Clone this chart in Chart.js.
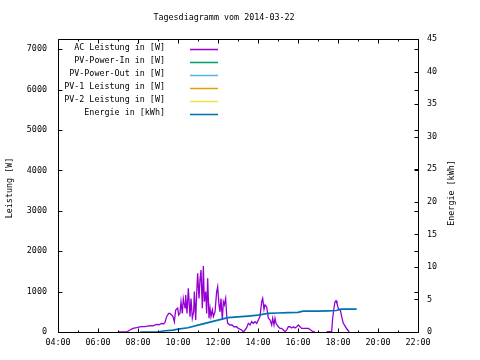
<!DOCTYPE html>
<html>
<head>
<meta charset="utf-8">
<script src="https://cdn.jsdelivr.net/npm/chart.js@4.4.1/dist/chart.umd.min.js"></script>
<style>
html,body{margin:0;padding:0;background:#fff;}
#wrap{width:480px;height:360px;position:relative;}
</style>
</head>
<body>
<div id="wrap"><canvas id="c" width="480" height="360"></canvas></div>
<script>
// ---- data ----
const chartTitle = "Tagesdiagramm vom 2014-03-22";
const seriesLabels = ["AC Leistung in [W]", "PV-Power-In in [W]", "PV-Power-Out in [W]",
                      "PV-1 Leistung in [W]", "PV-2 Leistung in [W]", "Energie in [kWh]"];
const seriesColors = ["#9400d3", "#009e73", "#56b4e9", "#e69f00", "#f0e442", "#0072b2"];
const xTickHours = [4, 6, 8, 10, 12, 14, 16, 18, 20, 22];
const yTickWatts = [0, 1000, 2000, 3000, 4000, 5000, 6000, 7000];
const y2TickKWh = [0, 5, 10, 15, 20, 25, 30, 35, 40, 45];

const acTimes = ["07:01","07:26","07:36","07:45","07:56","08:06","08:11","08:21","08:36","08:45","08:56",
 "09:03","09:11","09:17","09:21","09:26","09:32","09:36","09:41","09:45","09:49","09:53","09:59",
 "10:02","10:06","10:09","10:13","10:16","10:21","10:23","10:27","10:31","10:36","10:39","10:43","10:47","10:49","10:53","10:56","10:59",
 "11:03","11:06","11:09","11:13","11:16","11:19","11:23","11:26","11:29","11:33","11:36","11:39","11:43","11:46","11:51","11:56","11:59",
 "12:03","12:06","12:09","12:13","12:16","12:19","12:23","12:26","12:29","12:36","12:42","12:48","12:56",
 "13:01","13:11","13:16","13:21","13:26","13:31","13:36","13:41","13:46","13:51","13:56",
 "14:01","14:06","14:11","14:14","14:18","14:21","14:26","14:29","14:31","14:36","14:41","14:44","14:48","14:51","14:54",
 "15:01","15:06","15:11","15:16","15:21","15:26","15:31","15:36","15:41","15:46","15:51","15:56",
 "16:01","16:06","16:11","16:16","16:26","16:31","16:36","16:41","16:46","16:51",
 "17:00",
 "17:26","17:41","17:44","17:47","17:51","17:54","17:57",
 "18:01","18:04","18:07","18:11","18:16","18:21","18:26","18:34"];
const acWatts = [0,0,50,90,106,125,131,135,156,150,190,
 180,214,200,240,380,460,460,420,380,255,545,590,
 420,470,750,460,830,600,915,460,1080,380,830,340,500,1000,297,960,1450,
 830,1290,1535,590,1630,750,1000,460,1330,340,590,380,545,380,500,1000,1120,
 670,500,830,297,750,670,830,420,215,173,173,130,130,
 90,50,0,50,107,215,173,255,215,255,215,
 297,380,750,830,560,670,620,460,340,300,173,340,173,340,215,
 130,90,90,50,10,50,130,131,100,131,100,131,
 173,131,90,90,90,90,60,30,8,0,
 null,
 10,10,340,545,750,775,700,
 585,560,545,380,215,150,80,0];

const energyTimes = ["08:06","09:00","09:15","09:45","10:00","10:30","11:00","11:30","12:00","12:30",
 "13:00","13:30","14:00","14:30","15:00","15:30","16:00","16:15","16:30","17:00","17:30","17:55","18:10","18:30","18:56"];
const energyKWh = [0,0,0.15,0.3,0.45,0.65,1.05,1.45,1.82,2.2,
 2.32,2.45,2.6,2.85,2.92,2.98,3.02,3.2,3.2,3.22,3.25,3.3,3.5,3.5,3.52];

// ---- helpers ----
const toHours = s => { const [h, m] = s.split(":").map(Number); return h + m / 60; };
const pad2 = n => String(n).padStart(2, "0");
const fmtHour = v => pad2(Math.floor(v)) + ":" + pad2(Math.round((v % 1) * 60));
const points = (ts, vs) => ts.map((t, i) => ({x: toHours(t), y: vs[i]}));

const FONT = '"DejaVu Sans Mono", "Liberation Mono", monospace';
const FSIZE = 8.4;
Chart.defaults.font.family = FONT;
Chart.defaults.font.size = FSIZE;
Chart.defaults.color = "#000";

const datasets = seriesLabels.map((lab, i) => ({
  label: lab,
  data: [],
  borderColor: seriesColors[i],
  backgroundColor: seriesColors[i],
  borderWidth: 1.3,
  pointRadius: 0,
  tension: 0,
  spanGaps: false,
  yAxisID: "y",
  order: 1
}));
datasets[0].data = points(acTimes, acWatts);
datasets[5].data = points(energyTimes, energyKWh);
datasets[5].yAxisID = "y2";
datasets[5].borderWidth = 1.7;
datasets[5].order = 0;

const framePlugin = {
  id: "frame",
  afterDatasetsDraw(chart) {
    const {ctx, chartArea: a, scales} = chart;
    const L = Math.floor(a.left) + 0.5, R = Math.floor(a.right) + 0.5;
    const T = Math.floor(a.top) + 0.5, B = Math.floor(a.bottom) + 0.5;
    ctx.save();
    ctx.strokeStyle = "#000";
    ctx.lineWidth = 1;
    ctx.beginPath();
    ctx.rect(L, T, R - L, B - T);
    for (let h = scales.x.min; h <= scales.x.max; h += 1) {
      const px = Math.round(scales.x.getPixelForValue(h)) + 0.5;
      const len = (h % 2 === 0) ? 4 : 2;
      ctx.moveTo(px, B); ctx.lineTo(px, B - len);
      ctx.moveTo(px, T); ctx.lineTo(px, T + len);
    }
    yTickWatts.forEach(v => {
      const py = Math.round(scales.y.getPixelForValue(v)) + 0.5;
      ctx.moveTo(L, py); ctx.lineTo(L + 4, py);
      ctx.moveTo(R, py); ctx.lineTo(R - 4, py);
    });
    y2TickKWh.forEach(v => {
      const py = Math.round(scales.y2.getPixelForValue(v)) + 0.5;
      ctx.moveTo(R, py); ctx.lineTo(R - 4, py);
    });
    ctx.stroke();
    ctx.restore();
  },
  afterDraw(chart) {
    const {ctx} = chart;
    ctx.save();
    ctx.fillStyle = "#000";
    ctx.font = FSIZE + "px " + FONT;
    ctx.textAlign = "center";
    ctx.textBaseline = "middle";
    ctx.fillText(chartTitle, 224, 18);
    ctx.save();
    ctx.translate(10, 188);
    ctx.rotate(-Math.PI / 2);
    ctx.fillText("Leistung [W]", 0, 0);
    ctx.restore();
    ctx.save();
    ctx.translate(452, 193);
    ctx.rotate(-Math.PI / 2);
    ctx.fillText("Energie [kWh]", 0, 0);
    ctx.restore();
    chart.data.datasets.forEach((ds, i) => {
      const y = 49 + i * 13;
      ctx.textAlign = "right";
      ctx.fillStyle = "#000";
      ctx.fillText(ds.label, 165, y - 1);
      ctx.strokeStyle = ds.borderColor;
      ctx.lineWidth = 1.5;
      ctx.beginPath();
      ctx.moveTo(190, y + 0.5);
      ctx.lineTo(218, y + 0.5);
      ctx.stroke();
    });
    ctx.restore();
  }
};

new Chart(document.getElementById("c"), {
  type: "line",
  data: {datasets},
  options: {
    responsive: false,
    animation: false,
    layout: {padding: {top: 39, bottom: 0, left: 0, right: 0}},
    plugins: {legend: {display: false}, title: {display: false}, tooltip: {enabled: false}},
    scales: {
      x: {
        type: "linear", position: "bottom", min: 4, max: 22,
        afterBuildTicks: s => { s.ticks = xTickHours.map(v => ({value: v})); },
        afterFit: s => { s.height = 28; },
        ticks: {callback: v => fmtHour(v), padding: 6, maxRotation: 0, autoSkip: false},
        grid: {display: false, drawTicks: false},
        border: {display: false}
      },
      y: {
        type: "linear", position: "left", min: 0, max: 7250,
        afterBuildTicks: s => { s.ticks = yTickWatts.map(v => ({value: v})); },
        afterFit: s => { s.width = 58; },
        ticks: {padding: 11, callback: v => String(v)},
        grid: {display: false, drawTicks: false},
        border: {display: false}
      },
      y2: {
        type: "linear", position: "right", min: 0, max: 45,
        afterBuildTicks: s => { s.ticks = y2TickKWh.map(v => ({value: v})); },
        afterFit: s => { s.width = 62; },
        ticks: {padding: 9, callback: v => String(v)},
        grid: {display: false, drawTicks: false},
        border: {display: false}
      }
    }
  },
  plugins: [framePlugin]
});
</script>
</body>
</html>
